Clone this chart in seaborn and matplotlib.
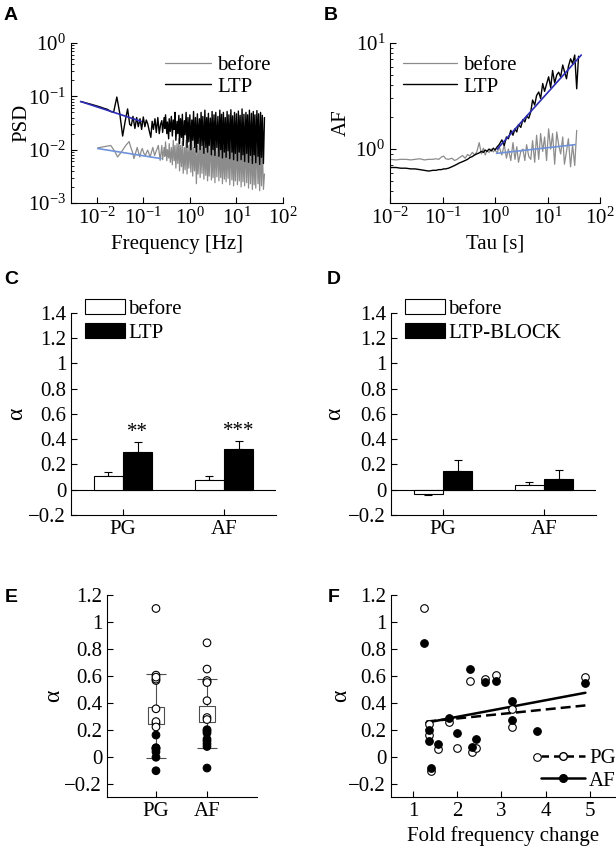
import matplotlib
matplotlib.use("Agg")
import numpy as np
import pandas as pd
import matplotlib.pyplot as plt
import matplotlib.patches as mpatches
from matplotlib.lines import Line2D
import seaborn as sns

# ---------------- data ----------------
# A: power spectra (low-frequency part + dense high-frequency part)
freq_ltp_lo = [0.0045, 0.006, 0.008, 0.01, 0.012, 0.014, 0.017, 0.02, 0.023, 0.027,
               0.031, 0.036, 0.041, 0.046, 0.051, 0.055, 0.06, 0.066, 0.072, 0.078,
               0.085, 0.092, 0.1, 0.108, 0.116, 0.125, 0.135, 0.145, 0.155, 0.165,
               0.178, 0.19, 0.205, 0.22, 0.235]
psd_ltp_lo = [0.08, 0.075, 0.07, 0.066, 0.063, 0.06, 0.057, 0.052, 0.05, 0.097,
              0.05, 0.018, 0.035, 0.058, 0.03, 0.028, 0.042, 0.025, 0.04, 0.027,
              0.038, 0.024, 0.041, 0.027, 0.036, 0.03, 0.022, 0.017, 0.034, 0.024,
              0.038, 0.021, 0.04, 0.02, 0.03]
freq_before_lo = [0.0105, 0.013, 0.016, 0.02, 0.024, 0.028, 0.032, 0.036, 0.042, 0.0495,
                  0.054, 0.058, 0.063, 0.068, 0.074, 0.079, 0.084, 0.09, 0.095, 0.103,
                  0.111, 0.118, 0.124, 0.132, 0.14, 0.15, 0.16, 0.175, 0.19, 0.21, 0.23]
psd_before_lo = [0.0108, 0.0112, 0.0116, 0.012, 0.0095, 0.0073, 0.0085, 0.0098, 0.012, 0.0142,
                 0.011, 0.0092, 0.0068, 0.0085, 0.011, 0.0088, 0.0073, 0.0095, 0.0105, 0.0085,
                 0.0078, 0.009, 0.0098, 0.0085, 0.0073, 0.009, 0.011, 0.0078, 0.0095, 0.012, 0.0063]
freq_hi = [0.25, 0.26, 0.28, 0.29, 0.30, 0.32, 0.33, 0.35, 0.36, 0.38,
           0.40, 0.42, 0.44, 0.46, 0.48, 0.50, 0.53, 0.55, 0.58, 0.60,
           0.63, 0.66, 0.69, 0.72, 0.76, 0.79, 0.83, 0.87, 0.91, 0.95,
           1.0, 1.05, 1.1, 1.15, 1.2, 1.26, 1.32, 1.38, 1.45, 1.5,
           1.6, 1.66, 1.74, 1.82, 1.9, 2.0, 2.1, 2.2, 2.3, 2.4,
           2.5, 2.6, 2.75, 2.9, 3.0, 3.15, 3.3, 3.45, 3.6, 3.8,
           4.0, 4.2, 4.4, 4.6, 4.8, 5.0, 5.25, 5.5, 5.75, 6.0,
           6.3, 6.6, 6.9, 7.2, 7.6, 8.0, 8.3, 8.7, 9.1, 9.5,
           10, 10.5, 11, 11.5, 12, 12.6, 13.2, 13.8, 14.5, 15,
           16, 16.6, 17.4, 18.2, 19, 20, 21, 22, 23, 24,
           25, 26, 27.5, 29, 30, 31.5, 33, 34.5, 36, 38, 40]
psd_ltp_hi = [0.035, 0.021, 0.04, 0.025, 0.045, 0.02, 0.033, 0.016, 0.038, 0.022,
              0.042, 0.018, 0.036, 0.024, 0.05, 0.015, 0.034, 0.02, 0.044, 0.013,
              0.038, 0.017, 0.046, 0.012, 0.035, 0.019, 0.05, 0.011, 0.04, 0.014,
              0.045, 0.01, 0.036, 0.015, 0.052, 0.011, 0.04, 0.009, 0.047, 0.013,
              0.038, 0.01, 0.05, 0.012, 0.042, 0.0085, 0.055, 0.011, 0.04, 0.009,
              0.048, 0.012, 0.039, 0.008, 0.052, 0.01, 0.045, 0.0078, 0.05, 0.011,
              0.042, 0.0075, 0.055, 0.01, 0.046, 0.007, 0.05, 0.009, 0.04, 0.0072,
              0.052, 0.0095, 0.045, 0.0068, 0.056, 0.009, 0.043, 0.0065, 0.05, 0.0085,
              0.047, 0.0062, 0.053, 0.009, 0.044, 0.0065, 0.058, 0.008, 0.046, 0.006,
              0.05, 0.0085, 0.045, 0.0058, 0.055, 0.0078, 0.048, 0.0055, 0.052, 0.008,
              0.045, 0.0057, 0.054, 0.0075, 0.047, 0.0053, 0.05, 0.0072, 0.044, 0.0055, 0.04]
psd_before_hi = [0.012, 0.0065, 0.011, 0.0075, 0.014, 0.0062, 0.01, 0.007, 0.013, 0.0058,
                 0.011, 0.0052, 0.015, 0.0062, 0.012, 0.0045, 0.013, 0.0055, 0.016, 0.004,
                 0.012, 0.0048, 0.014, 0.0036, 0.011, 0.0042, 0.015, 0.0035, 0.012, 0.0045,
                 0.013, 0.0038, 0.016, 0.0032, 0.011, 0.004, 0.014, 0.0023, 0.012, 0.0035,
                 0.015, 0.003, 0.012, 0.0036, 0.017, 0.0028, 0.011, 0.0033, 0.014, 0.0026,
                 0.012, 0.0032, 0.016, 0.0027, 0.011, 0.003, 0.014, 0.0024, 0.013, 0.0031,
                 0.015, 0.0026, 0.012, 0.003, 0.017, 0.0023, 0.011, 0.0028, 0.014, 0.0025,
                 0.012, 0.0029, 0.016, 0.0022, 0.013, 0.0027, 0.015, 0.0021, 0.011, 0.0026,
                 0.014, 0.0022, 0.012, 0.0026, 0.016, 0.002, 0.013, 0.0025, 0.011, 0.0021,
                 0.015, 0.0024, 0.012, 0.0019, 0.014, 0.0023, 0.011, 0.0018, 0.013, 0.0022,
                 0.012, 0.0019, 0.014, 0.0023, 0.011, 0.0017, 0.013, 0.0021, 0.012, 0.0018, 0.0035]
fit_psd_ltp_f = [0.0045, 0.09]
fit_psd_ltp = [0.08, 0.034]
fit_psd_before_f = [0.0105, 0.24]
fit_psd_before = [0.0105, 0.0068]

# B: Allan factor vs counting time
tau_before = [0.01, 0.013, 0.016, 0.02, 0.025, 0.03, 0.037, 0.045, 0.055, 0.065,
              0.075, 0.085, 0.095, 0.105, 0.115, 0.13, 0.15, 0.17, 0.19, 0.21,
              0.24, 0.27, 0.3, 0.33, 0.37, 0.41, 0.45, 0.5, 0.55, 0.6,
              0.65, 0.7, 0.77, 0.85, 0.93, 1.0, 1.1, 1.2, 1.35, 1.5,
              1.65, 1.8, 2.0, 2.2, 2.4, 2.6, 2.8, 3.1, 3.4, 3.7,
              4.0, 4.4, 4.8, 5.2, 5.7, 6.2, 6.8, 7.4, 8.1, 8.8,
              9.6, 10.5, 11.5, 12.5, 13.7, 15, 16.3, 17.8, 19.5, 21,
              23, 25, 27.5, 30, 33, 36]
af_before = [0.8, 0.79, 0.8, 0.8, 0.79, 0.8, 0.81, 0.79, 0.8, 0.8,
             0.81, 0.8, 0.84, 0.86, 0.81, 0.8, 0.82, 0.78, 0.8, 0.83,
             0.87, 0.82, 0.89, 0.86, 0.93, 0.88, 0.94, 1.15, 0.9, 1.02,
             0.88, 0.96, 0.93, 1.0, 0.94, 0.98, 0.92, 1.05, 0.88, 1.1,
             0.82, 1.0, 0.78, 1.15, 0.8, 1.05, 0.75, 0.95, 1.0, 0.78,
             1.1, 0.85, 0.8, 1.2, 0.75, 1.35, 0.8, 1.4, 0.95, 1.3,
             0.78, 1.55, 1.0, 1.4, 0.72, 1.45, 1.1, 0.9, 1.3, 0.72,
             0.95, 1.25, 0.68, 1.1, 0.7, 1.5]
tau_ltp = tau_before + [39.0]
af_ltp = [0.67, 0.67, 0.66, 0.66, 0.65, 0.65, 0.64, 0.63, 0.62, 0.63,
          0.63, 0.64, 0.64, 0.65, 0.65, 0.66, 0.68, 0.70, 0.72, 0.74,
          0.76, 0.78, 0.80, 0.83, 0.85, 0.88, 0.90, 0.92, 0.95, 0.93,
          0.98, 0.95, 1.00, 0.96, 1.02, 0.98, 1.05, 1.10, 1.22, 1.08,
          1.30, 1.25, 1.50, 1.35, 1.55, 1.45, 1.70, 1.60, 1.90, 1.80,
          2.05, 1.95, 2.25, 2.90, 2.60, 3.20, 3.45, 3.00, 4.15, 3.50,
          4.10, 4.80, 3.80, 5.50, 4.20, 5.00, 5.30, 4.80, 6.20, 5.40,
          4.60, 6.00, 7.10, 6.40, 7.70, 3.70, 7.50]
fit_af_ltp_tau = [1.1, 44]
fit_af_ltp = [1.0, 7.7]
fit_af_before_tau = [1.07, 33.5]
fit_af_before = [0.91, 1.1]

# C, D: mean alpha +- SEM
regions = ["PG", "AF"]
c_conditions = ["before", "LTP"]
c_mean = {"before": [0.11, 0.08], "LTP": [0.30, 0.32]}
c_sem = {"before": [0.03, 0.03], "LTP": [0.08, 0.065]}
c_stars = ["**", "***"]
d_conditions = ["before", "LTP-BLOCK"]
d_mean = {"before": [-0.035, 0.035], "LTP-BLOCK": [0.145, 0.085]}
d_sem = {"before": [0.01, 0.025], "LTP-BLOCK": [0.09, 0.07]}

# E, F: individual cells
fold_change = [1.25, 1.35, 1.35, 1.40, 1.57, 1.81, 2.0, 2.28, 2.34, 2.43,
               2.63, 2.87, 3.24, 3.25, 3.80, 4.90]
alpha_pg = [1.10, 0.245, 0.16, -0.105, 0.055, 0.26, 0.065, 0.565, 0.035, 0.065,
            0.575, 0.605, 0.355, 0.22, -0.005, 0.59]
alpha_af = [0.845, 0.20, 0.115, -0.085, 0.095, 0.29, 0.175, 0.65, 0.075, 0.13,
            0.555, 0.565, 0.415, 0.275, 0.19, 0.55]
alpha_threshold = 0.2
box_lo = [0.245, 0.257]
box_hi = [0.365, 0.378]
whisk_lo = [-0.01, 0.067]
whisk_hi = [0.612, 0.573]
fit_fold = [1.3, 4.9]
fit_pg = [0.26, 0.38]
fit_af = [0.252, 0.474]

# ---------------- style ----------------
sns.set_style("ticks")
plt.rcParams.update({
    "font.family": ["Liberation Serif", "DejaVu Serif"],
    "mathtext.fontset": "custom",
    "mathtext.rm": "Liberation Serif",
    "mathtext.it": "Liberation Serif:italic",
    "mathtext.bf": "Liberation Serif:bold",
    "font.size": 15,
    "axes.labelsize": 15,
    "xtick.labelsize": 15,
    "ytick.labelsize": 15,
    "legend.fontsize": 15,
    "axes.linewidth": 0.8,
    "axes.edgecolor": "black",
    "axes.labelcolor": "black",
    "text.color": "black",
    "xtick.color": "black",
    "ytick.color": "black",
    "xtick.direction": "in",
    "ytick.direction": "in",
    "xtick.major.size": 4,
    "ytick.major.size": 4,
    "xtick.minor.size": 2,
    "ytick.minor.size": 2,
    "xtick.major.width": 0.8,
    "ytick.major.width": 0.8,
    "axes.spines.top": False,
    "axes.spines.right": False,
})

W, H = 616, 850
fig = plt.figure(figsize=(W / 100, H / 100), dpi=100)


def add_ax(left, top, right, bottom):
    return fig.add_axes([left / W, 1 - bottom / H, (right - left) / W, (bottom - top) / H])


def letter(x, y, s):
    fig.text(x / W, 1 - y / H, s, family="Liberation Sans", fontweight="bold",
             fontsize=14, ha="center", va="center")


def alpha_label(ax, pad):
    ax.set_ylabel("α", fontsize=17, labelpad=pad)


# ---------------- A ----------------
axA = add_ax(71, 43, 283, 203)
axA.set_xscale("log")
axA.set_yscale("log")
sns.lineplot(x=freq_before_lo + freq_hi, y=psd_before_lo + psd_before_hi, ax=axA,
             color="#8c8c8c", lw=0.9, estimator=None, sort=False, label="before")
sns.lineplot(x=freq_ltp_lo + freq_hi, y=psd_ltp_lo + psd_ltp_hi, ax=axA,
             color="black", lw=1.0, estimator=None, sort=False, label="LTP")
axA.plot(fit_psd_ltp_f, fit_psd_ltp, color="#2b2bb5", lw=1.2)
axA.plot(fit_psd_before_f, fit_psd_before, color="#6f92db", lw=1.2)
axA.set_xlim(0.0028, 100)
axA.set_ylim(1e-3, 1)
axA.set_xticks([1e-2, 1e-1, 1, 10, 100])
axA.set_yticks([1e-3, 1e-2, 1e-1, 1])
axA.set_xlabel("Frequency [Hz]")
axA.set_ylabel("PSD", labelpad=-2)
axA.legend(frameon=False, loc="upper right", bbox_to_anchor=(1.0, 1.0),
           handlelength=2.2, handletextpad=0.3, labelspacing=0.1, borderaxespad=0.2)
letter(11, 15, "A")

# ---------------- B ----------------
axB = add_ax(390, 43, 600, 203)
axB.set_xscale("log")
axB.set_yscale("log")
sns.lineplot(x=tau_before, y=af_before, ax=axB, color="#8c8c8c", lw=0.9,
             estimator=None, sort=False, label="before")
sns.lineplot(x=tau_ltp, y=af_ltp, ax=axB, color="black", lw=1.0,
             estimator=None, sort=False, label="LTP")
axB.plot(fit_af_ltp_tau, fit_af_ltp, color="#2b2bb5", lw=1.2)
axB.plot(fit_af_before_tau, fit_af_before, color="#6f92db", lw=1.2)
axB.set_xlim(1e-2, 1e2)
axB.set_ylim(0.31, 10)
axB.set_xticks([1e-2, 1e-1, 1, 10, 100])
axB.set_yticks([1, 10])
axB.set_xlabel("Tau [s]")
axB.set_ylabel("AF", labelpad=3)
axB.legend(frameon=False, loc="upper left", bbox_to_anchor=(0.0, 1.0),
           handlelength=2.6, handletextpad=0.3, labelspacing=0.1, borderaxespad=0.2)
letter(331, 15, "B")


# ---------------- C, D ----------------
def bar_panel(ax, conditions, means, sems, stars=None):
    rows = []
    for cond in conditions:
        for reg, m in zip(regions, means[cond]):
            rows.append({"region": reg, "cond": cond, "alpha": m})
    df = pd.DataFrame(rows)
    ax.axhline(0, color="black", lw=0.8, zorder=1)
    sns.barplot(data=df, x="region", y="alpha", hue="cond", order=regions,
                hue_order=conditions, palette=["white", "black"], edgecolor="black",
                linewidth=0.8, width=0.58, errorbar=None, legend=False, ax=ax, zorder=2)
    for cont, cond in zip(ax.containers, conditions):
        xs = [p.get_x() + p.get_width() / 2 for p in cont]
        ms = np.array(means[cond])
        es = np.array(sems[cond])
        lower = np.where(ms < 0, es, 0)
        upper = np.where(ms < 0, 0, es)
        ax.errorbar(xs, ms, yerr=[lower, upper], fmt="none", ecolor="black",
                    elinewidth=0.8, capsize=3, capthick=0.8, zorder=1.5)
        if stars is not None and cond == conditions[1]:
            for x, m, e, s in zip(xs, ms, es, stars):
                ax.text(x, m + e + 0.075, s, ha="center", va="center", fontsize=15)
    ax.set_xlim(-0.515, 1.515)
    ax.set_ylim(-0.2, 1.4)
    ax.set_yticks(np.arange(-0.2, 1.41, 0.2))
    ax.set_yticklabels(["\u22120.2", "0", "0.2", "0.4", "0.6", "0.8", "1", "1.2", "1.4"])
    ax.set_xlabel("")
    handles = [mpatches.Patch(facecolor="white", edgecolor="black", lw=0.8),
               mpatches.Patch(facecolor="black", edgecolor="black", lw=0.8)]
    ax.legend(handles, conditions, frameon=False, loc="upper left",
              bbox_to_anchor=(0.03, 1.11), handlelength=1.9, handleheight=0.75,
              handletextpad=0.15, labelspacing=0.2, borderaxespad=0)


axC = add_ax(71, 313, 276, 515)
bar_panel(axC, c_conditions, c_mean, c_sem, c_stars)
alpha_label(axC, 1)
letter(11, 279, "C")

axD = add_ax(391, 313, 596, 515)
bar_panel(axD, d_conditions, d_mean, d_sem)
alpha_label(axD, 2)
letter(334, 279, "D")

# ---------------- E ----------------
axE = add_ax(107, 595, 257, 797)
pos = [0, 1]
axE.vlines(pos, whisk_lo, whisk_hi, color="0.3", lw=0.8, zorder=1)
axE.hlines(whisk_lo + whisk_hi, [p - 0.2 for p in pos] * 2, [p + 0.2 for p in pos] * 2,
           color="0.3", lw=0.8, zorder=1)
axE.bar(pos, np.array(box_hi) - np.array(box_lo), bottom=box_lo, width=0.33,
        color="white", edgecolor="0.3", lw=0.8, zorder=2)
e_rows = []
for i, vals in enumerate([alpha_pg, alpha_af]):
    for v in vals:
        e_rows.append({"pos": pos[i], "alpha": v,
                       "kind": "open" if v > alpha_threshold else "filled"})
dfE = pd.DataFrame(e_rows)
sns.scatterplot(data=dfE, x="pos", y="alpha", hue="kind",
                palette={"open": "white", "filled": "black"}, edgecolor="black",
                linewidth=0.8, s=30, legend=False, ax=axE, zorder=3)
axE.set_xlim(-0.96, 1.98)
axE.set_ylim(-0.3, 1.2)
axE.set_xticks(pos)
axE.set_xticklabels(regions)
axE.set_yticks(np.arange(-0.2, 1.21, 0.2))
axE.set_yticklabels(["\u22120.2", "0", "0.2", "0.4", "0.6", "0.8", "1", "1.2"])
axE.set_xlabel("")
alpha_label(axE, 0)
letter(11, 598, "E")

# ---------------- F ----------------
axF = add_ax(391, 595, 615, 797)
axF.plot(fit_fold, fit_pg, color="black", lw=1.8, ls="--", dashes=(4, 2), zorder=1)
axF.plot(fit_fold, fit_af, color="black", lw=1.8, ls="-", zorder=1)
sns.scatterplot(x=fold_change, y=alpha_pg, color="white", edgecolor="black",
                linewidth=0.8, s=30, ax=axF, zorder=2)
sns.scatterplot(x=fold_change, y=alpha_af, color="black", edgecolor="black",
                linewidth=0.8, s=30, ax=axF, zorder=3)
axF.set_xlim(0.5, 5.57)
axF.set_ylim(-0.3, 1.2)
axF.set_xticks([1, 2, 3, 4, 5])
axF.set_yticks(np.arange(-0.2, 1.21, 0.2))
axF.set_yticklabels(["\u22120.2", "0", "0.2", "0.4", "0.6", "0.8", "1", "1.2"])
axF.set_xlabel("Fold frequency change")
alpha_label(axF, -2)
f_handles = [Line2D([], [], color="black", lw=1.8, ls="--", dashes=(3, 2), marker="o",
                    mfc="white", mec="black", ms=5.5),
             Line2D([], [], color="black", lw=1.8, ls="-", marker="o",
                    mfc="black", mec="black", ms=5.5)]
axF.legend(f_handles, regions, frameon=False, loc="lower right",
           bbox_to_anchor=(1.04, -0.01), handlelength=2.1, handletextpad=0.2,
           labelspacing=0.15, borderaxespad=0)
letter(334, 598, "F")

fig.savefig("out.png", dpi=100)
